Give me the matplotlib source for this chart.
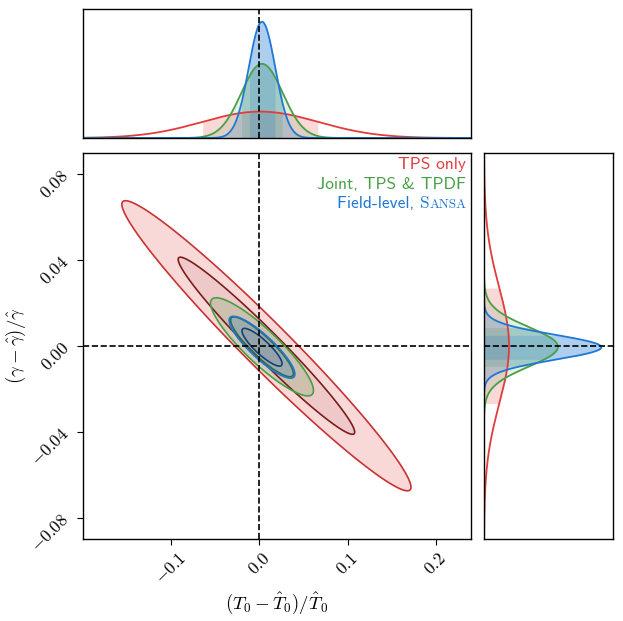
import numpy as np
import matplotlib
matplotlib.use('Agg')
import matplotlib.pyplot as plt
from matplotlib.ticker import FixedLocator, FuncFormatter
from matplotlib.offsetbox import TextArea, HPacker, VPacker, AnchoredOffsetbox

plt.rcParams['mathtext.fontset'] = 'cm'
plt.rcParams['axes.linewidth'] = 1.0

# posterior summaries (relative deviations)
names = ['TPS only', 'Joint, TPS & TPDF', 'Field-level, ']
colors = ['#e23c3c', '#48a046', '#1f78d4']
line_colors = ['#c83434', '#48a046', '#1f78d4']
dark_colors = ['#7a1e1e', '#2e6e46', '#173f7a']
mean_T = [0.008, 0.003, 0.003]
mean_g = [0.000, -0.0005, -0.0007]
sig_T = [0.066, 0.0235, 0.015]
sig_g = [0.0272, 0.0092, 0.0058]
rho = [-0.975, -0.89, -0.87]
band_T = [0.001, 0.003, 0.003]
curve_fill = [0.0, 0.15, 0.2]

xticks = [-0.1, 0.0, 0.1, 0.2]
yticks = [-0.08, -0.04, 0.0, 0.04, 0.08]
xlim = (-0.2, 0.24)
ylim = (-0.09, 0.09)
chi2_levels = [6.17, 2.30]  # 95%, 68%

W, H = 623, 621
fig = plt.figure(figsize=(W/100, H/100), dpi=100)
ax = fig.add_axes([83/W, 1-539/H, 388/W, 386.5/H])
axt = fig.add_axes([83/W, 1-138/H, 388/W, 129/H])
axr = fig.add_axes([484/W, 1-539/H, 129/W, 386.5/H])

gx = np.linspace(xlim[0], xlim[1], 500)
gy = np.linspace(ylim[0], ylim[1], 500)
X, Y = np.meshgrid(gx, gy)

for i in range(3):
	dx = (X - mean_T[i]) / sig_T[i]
	dy = (Y - mean_g[i]) / sig_g[i]
	r = rho[i]
	q = (dx**2 - 2*r*dx*dy + dy**2) / (1 - r**2)
	ax.contourf(X, Y, q, levels=[0, chi2_levels[0]], colors=[colors[i]], alpha=0.2)
	ax.contourf(X, Y, q, levels=[0, chi2_levels[1]], colors=[dark_colors[i]], alpha=0.08)
	ax.contour(X, Y, q, levels=[chi2_levels[0]], colors=[line_colors[i]], linewidths=1.2)
	ax.contour(X, Y, q, levels=[chi2_levels[1]], colors=[dark_colors[i]], linewidths=1.2)

pk_T = []
pk_g = []
for i in range(3):
	pT = np.exp(-0.5*((gx - band_T[i])/sig_T[i])**2) / (np.sqrt(2*np.pi)*sig_T[i])
	pg = np.exp(-0.5*((gy - mean_g[i])/sig_g[i])**2) / (np.sqrt(2*np.pi)*sig_g[i])
	pk_T.append(pT.max())
	pk_g.append(pg.max())
	axt.plot(gx, pT, color=colors[i], lw=1.3)
	axr.plot(pg, gy, color=colors[i], lw=1.3)
	if curve_fill[i] > 0:
		axt.fill_between(gx, 0, pT, color=colors[i], alpha=curve_fill[i], lw=0)
		axr.fill_betweenx(gy, 0, pg, color=colors[i], alpha=curve_fill[i], lw=0)
	bt = np.abs(gx - band_T[i]) <= sig_T[i]
	bg = np.abs(gy - mean_g[i]) <= sig_g[i]
	axt.fill_between(gx, 0, pT, where=bt, color=colors[i], alpha=0.2, lw=0)
	axr.fill_betweenx(gy, 0, pg, where=bg, color=colors[i], alpha=0.2, lw=0)

axt.set_xlim(xlim)
axt.set_ylim(0, max(pk_T)*1.11)
axr.set_ylim(ylim)
axr.set_xlim(0, max(pk_g)*1.1)
for a in (axt, axr):
	a.set_xticks([])
	a.set_yticks([])

ax.set_xlim(xlim)
ax.set_ylim(ylim)
ax.axvline(0, color='k', ls='--', lw=1.2)
ax.axhline(0, color='k', ls='--', lw=1.2)
axt.axvline(0, color='k', ls='--', lw=1.2)
axr.axhline(0, color='k', ls='--', lw=1.2)

ax.xaxis.set_major_locator(FixedLocator(xticks))
ax.yaxis.set_major_locator(FixedLocator(yticks))
ax.xaxis.set_major_formatter(FuncFormatter(lambda v, p: f'${v:.1f}$'))
ax.yaxis.set_major_formatter(FuncFormatter(lambda v, p: f'${v:.2f}$'))
ax.tick_params(labelsize=12.5, length=4)
for t in ax.get_xticklabels():
	t.set_rotation(45)
for t in ax.get_yticklabels():
	t.set_rotation(45)
ax.set_xlabel(r'$(T_0-\hat{T}_0)/\hat{T}_0$', fontsize=13.5)
ax.set_ylabel(r'$(\gamma-\hat{\gamma})/\hat{\gamma}$', fontsize=13.5)
ax.xaxis.set_label_coords(0.5, -0.132)
ax.yaxis.set_label_coords(-0.142, 0.5)

# legend-like labels in the upper right
rows = []
for i in range(3):
	parts = [TextArea(names[i], textprops=dict(color=colors[i], family='cmss10', size=12.5))]
	if i == 2:
		parts.append(TextArea('S', textprops=dict(color=colors[i], family='cmr10', size=12.5)))
		parts.append(TextArea('ANSA', textprops=dict(color=colors[i], family='cmr10', size=9.5)))
	rows.append(HPacker(children=parts, align='baseline', pad=0, sep=0))
box = VPacker(children=rows, align='right', pad=0, sep=3)
anch = AnchoredOffsetbox(loc='upper right', child=box, pad=0.1, borderpad=0.25, frameon=False)
ax.add_artist(anch)

fig.savefig('out.png', dpi=100)
